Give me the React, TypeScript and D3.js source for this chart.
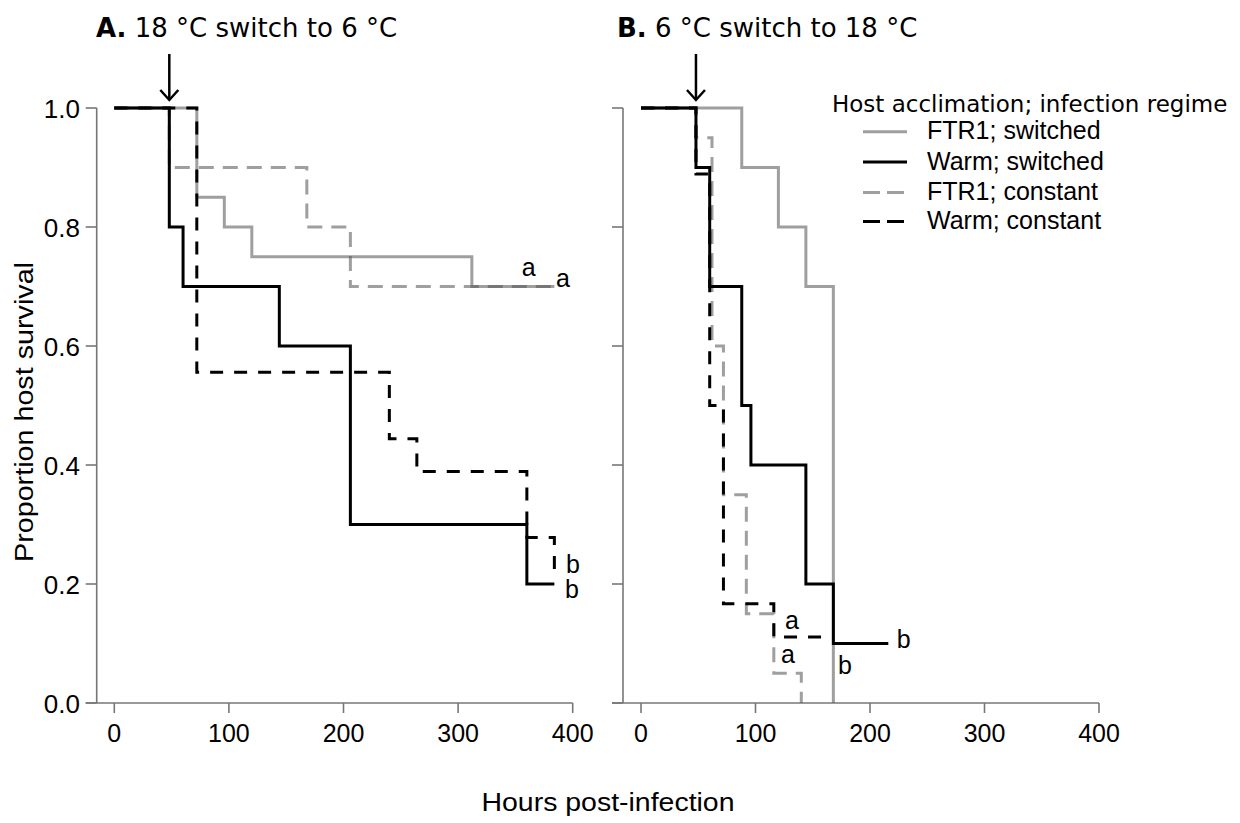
import React from 'react';
import * as d3 from 'd3';

const W = 1240;
const H = 823;

type Pt = [number, number];

// Panel A: 18 °C switch to 6 °C  (hours, proportion surviving)
const aFtrSwitched: Pt[] = [[0, 1], [72, 0.85], [96, 0.8], [120, 0.75], [312, 0.7], [384, 0.7]];
const aWarmSwitched: Pt[] = [[0, 1], [48, 0.8], [60, 0.7], [144, 0.6], [206, 0.3], [360, 0.2], [384, 0.2]];
const aFtrConstant: Pt[] = [[0, 1], [48, 0.9], [168, 0.8], [206, 0.7], [384, 0.7]];
const aWarmConstant: Pt[] = [[0, 1], [72, 0.556], [240, 0.444], [264, 0.389], [360, 0.278], [384, 0.222]];

// Panel B: 6 °C switch to 18 °C
const bFtrSwitched: Pt[] = [[0, 1], [88, 0.9], [120, 0.8], [144, 0.7], [168, 0]];
const bWarmSwitched: Pt[] = [[0, 1], [48, 0.9], [60, 0.7], [88, 0.5], [96, 0.4], [144, 0.2], [168, 0.1], [216, 0.1]];
const bFtrConstant: Pt[] = [[0, 1], [48, 0.95], [62, 0.6], [72, 0.35], [92, 0.15], [116, 0.05], [140, 0]];
const bWarmConstant: Pt[] = [[0, 1], [48, 0.889], [60, 0.5], [72, 0.167], [116, 0.111], [165, 0.111]];

// significance letters: [hours, survival, letter]
const lettersA: [number, number, string][] = [[355.5, 0.717, 'a'], [385.4, 0.7, 'a'], [394.2, 0.218, 'b'], [393.3, 0.176, 'b']];
const lettersB: [number, number, string][] = [[125.8, 0.124, 'a'], [122.3, 0.067, 'a'], [172, 0.049, 'b'], [223.3, 0.092, 'b']];

const switchHour = 48;

const xTicks = [0, 100, 200, 300, 400];
const yTicks = [0, 0.2, 0.4, 0.6, 0.8, 1.0];

const legendTitle = 'Host acclimation; infection regime';
const legendLabels = ['FTR1; switched', 'Warm; switched', 'FTR1; constant', 'Warm; constant'];

const GREY = '#5a5a5a';
const styles = [
  { stroke: GREY, opacity: 0.58, dash: undefined as string | undefined },
  { stroke: '#000', opacity: 1, dash: undefined as string | undefined },
  { stroke: GREY, opacity: 0.58, dash: '15,9' },
  { stroke: '#000', opacity: 1, dash: '13,11' },
];
const drawOrder = [0, 2, 1, 3];

const SANS = '"Liberation Sans", Arial, sans-serif';
const VERD = '"DejaVu Sans", Verdana, sans-serif';

const y = d3.scaleLinear().domain([0, 1]).range([703, 108]);

const panels = [
  {
    bold: 'A.', title: ' 18 °C switch to 6 °C', titleX: 96,
    x: d3.scaleLinear().domain([0, 400]).range([114.3, 572.7]),
    axisX: 96.7,
    series: [aFtrSwitched, aWarmSwitched, aFtrConstant, aWarmConstant],
    letters: lettersA,
    yLabels: true,
  },
  {
    bold: 'B.', title: ' 6 °C switch to 18 °C', titleX: 617,
    x: d3.scaleLinear().domain([0, 400]).range([641, 1099]),
    axisX: 623,
    series: [bFtrSwitched, bWarmSwitched, bFtrConstant, bWarmConstant],
    letters: lettersB,
    yLabels: false,
  },
];

const AXIS = '#777';

export default function App() {
  return (
    <svg width={W} height={H} viewBox={`0 0 ${W} ${H}`}
      style={{ position: 'absolute', left: 0, top: 0, display: 'block', background: '#fff' }}>
      {panels.map((p, pi) => {
        const line = d3.line<Pt>().x((d) => p.x(d[0])).y((d) => y(d[1])).curve(d3.curveStepAfter);
        const ax = p.x;
        const ay = y(1);
        return (
          <g key={pi}>
            {/* title */}
            <text x={p.titleX} y={37} fontFamily={VERD} fontSize={26} fill="#000">
              <tspan fontWeight="bold">{p.bold}</tspan>
              <tspan>{p.title}</tspan>
            </text>
            {/* axes */}
            <line x1={p.axisX} x2={p.axisX} y1={y(1)} y2={y(0)} stroke={AXIS} strokeWidth={1.6} />
            <line x1={p.axisX - 11} x2={ax(400)} y1={y(0)} y2={y(0)} stroke={AXIS} strokeWidth={1.6} />
            {yTicks.map((t) => (
              <g key={t}>
                <line x1={p.axisX - 11} x2={p.axisX} y1={y(t)} y2={y(t)} stroke={AXIS} strokeWidth={1.6} />
                {p.yLabels && (
                  <text x={80} y={y(t) + 9.5} textAnchor="end" fontFamily={SANS} fontSize={26} fill="#000">
                    {t.toFixed(1)}
                  </text>
                )}
              </g>
            ))}
            {xTicks.map((t) => (
              <g key={t}>
                <line x1={ax(t)} x2={ax(t)} y1={y(0)} y2={y(0) + 10} stroke={AXIS} strokeWidth={1.6} />
                <text x={ax(t)} y={742} textAnchor="middle" fontFamily={SANS} fontSize={25} fill="#000">
                  {t}
                </text>
              </g>
            ))}
            {/* survival curves */}
            {drawOrder.map((si) => (
              <path
                key={si}
                d={line(p.series[si]) ?? ''}
                fill="none"
                stroke={styles[si].stroke}
                strokeOpacity={styles[si].opacity}
                strokeWidth={3}
                strokeDasharray={styles[si].dash}
                strokeLinejoin="miter"
              />
            ))}
            {/* letters */}
            {p.letters.map(([t, s, l], i) => (
              <text key={i} x={ax(t)} y={y(s)} fontFamily={SANS} fontSize={25} fill="#000">
                {l}
              </text>
            ))}
            {/* switch arrow */}
            <line x1={ax(switchHour)} x2={ax(switchHour)} y1={ay - 54} y2={ay - 8} stroke="#000" strokeWidth={2.5} />
            <polyline
              points={`${ax(switchHour) - 9},${ay - 18} ${ax(switchHour)},${ay - 8} ${ax(switchHour) + 9},${ay - 18}`}
              fill="none"
              stroke="#000"
              strokeWidth={2.5}
            />
          </g>
        );
      })}

      {/* legend */}
      <text x={832} y={112} fontFamily={VERD} fontSize={23} fill="#000">
        {legendTitle}
      </text>
      {legendLabels.map((lab, i) => {
        const ly = [131.7, 162, 192.5, 221.5][i];
        return (
          <g key={lab}>
            <line x1={863} x2={907} y1={ly} y2={ly} stroke={styles[i].stroke} strokeOpacity={styles[i].opacity}
              strokeWidth={3} strokeDasharray={styles[i].dash ? '17,7' : undefined} />
            <text x={927} y={ly + 7.5} fontFamily={SANS} fontSize={25} fill="#000">
              {lab}
            </text>
          </g>
        );
      })}

      {/* axis titles */}
      <text x={608} y={811} textAnchor="middle" fontFamily={SANS} fontSize={25} fill="#000"
        textLength={253} lengthAdjust="spacingAndGlyphs">
        Hours post-infection
      </text>
      <text transform="translate(33,412) rotate(-90)" textAnchor="middle" fontFamily={SANS} fontSize={26} fill="#000"
        textLength={300} lengthAdjust="spacingAndGlyphs">
        Proportion host survival
      </text>
    </svg>
  );
}
